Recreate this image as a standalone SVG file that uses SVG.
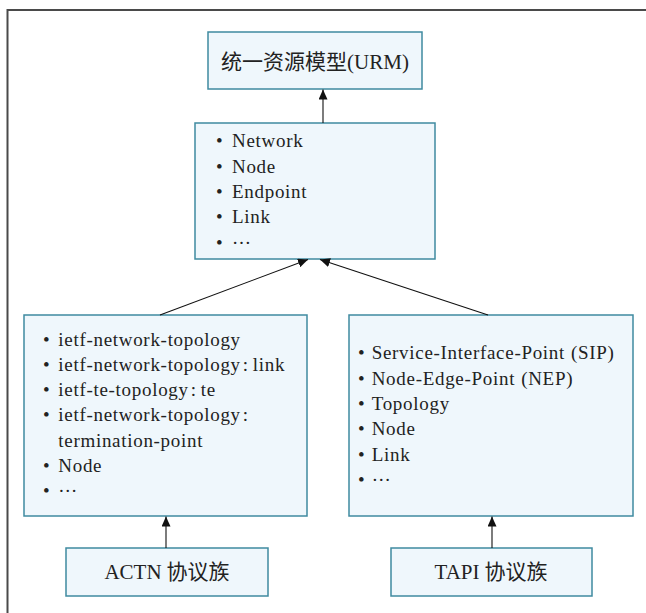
<svg xmlns="http://www.w3.org/2000/svg" width="646" height="613" viewBox="0 0 646 613">
<defs>
<style>
.box{fill:#EFF7FC;stroke:#3F8AA0;stroke-width:1.5}
.t{font-size:19px;fill:#222;letter-spacing:0.7px}
.c{font-size:21px;fill:#222;text-anchor:middle}
.conn{stroke:#111;stroke-width:1.1;fill:none;marker-end:url(#ah)}
.frame{stroke:#4a4a4a;stroke-width:2;fill:none}
</style>
<marker id="ah" markerUnits="userSpaceOnUse" markerWidth="10" markerHeight="9" viewBox="0 0 10 9" refX="10" refY="4.5" orient="auto">
<path d="M0,0 L10,4.5 L0,9 z" fill="#111"/>
</marker>
</defs>
<rect width="646" height="613" fill="#fff"/>
<path class="frame" d="M7.5,613 L7.5,10 L646,10"/>

<g id="urm" font-family="'Liberation Serif', serif">
<rect class="box" x="208" y="32" width="214" height="57"/>
<text class="c" x="315" y="69"><tspan font-family="'Noto Sans CJK SC', sans-serif">统一资源模型</tspan>(URM)</text>
</g>

<g id="common" font-family="'Liberation Serif', serif">
<rect class="box" x="195" y="123" width="240" height="136"/>
<text class="t" x="216" y="147.3" letter-spacing="0.3">•<tspan x="232">Network</tspan></text>
<text class="t" x="216" y="172.7" letter-spacing="0.3">•<tspan x="232">Node</tspan></text>
<text class="t" x="216" y="198" letter-spacing="0.6">•<tspan x="232">Endpoint</tspan></text>
<text class="t" x="216" y="223.3" letter-spacing="0.3">•<tspan x="232">Link</tspan></text>
<text class="t" x="216" y="248.6">•<tspan x="232" dy="-5" letter-spacing="1">…</tspan></text>
</g>

<g id="actn-model" font-family="'Liberation Serif', serif">
<rect class="box" x="24" y="315" width="283" height="201"/>
<text class="t" x="43" y="345.5">•<tspan x="58.3">ietf-network-topology</tspan></text>
<text class="t" x="43" y="370.8">•<tspan x="58.3">ietf-network-topology</tspan><tspan dx="2">:</tspan><tspan dx="4">link</tspan></text>
<text class="t" x="43" y="396">•<tspan x="58.3">ietf-te-topology</tspan><tspan dx="2">:</tspan><tspan dx="4">te</tspan></text>
<text class="t" x="43" y="421.3">•<tspan x="58.3">ietf-network-topology</tspan><tspan dx="2">:</tspan></text>
<text class="t" x="58.3" y="446.6">termination-point</text>
<text class="t" x="43" y="472">•<tspan x="58.3">Node</tspan></text>
<text class="t" x="43" y="497">•<tspan x="58.3" dy="-5" letter-spacing="1">…</tspan></text>
</g>

<g id="tapi-model" font-family="'Liberation Serif', serif">
<rect class="box" x="349" y="315" width="284" height="201"/>
<text class="t" x="358" y="359.3">•<tspan x="371.7">Service-Interface-Point</tspan><tspan dx="6">(SIP)</tspan></text>
<text class="t" x="358" y="384.6">•<tspan x="371.7">Node-Edge-Point</tspan><tspan dx="6">(NEP)</tspan></text>
<text class="t" x="358" y="409.9">•<tspan x="371.7">Topology</tspan></text>
<text class="t" x="358" y="435.2">•<tspan x="371.7">Node</tspan></text>
<text class="t" x="358" y="460.5">•<tspan x="371.7">Link</tspan></text>
<text class="t" x="358" y="485.8">•<tspan x="371.7" dy="-5" letter-spacing="1">…</tspan></text>
</g>

<g id="actn" font-family="'Liberation Serif', serif">
<rect class="box" x="66" y="548" width="202" height="48"/>
<text class="c" x="167" y="579" font-size="19.5">ACTN<tspan font-family="'Noto Sans CJK SC', sans-serif" dx="5">协议族</tspan></text>
</g>

<g id="tapi" font-family="'Liberation Serif', serif">
<rect class="box" x="391" y="548" width="201" height="48"/>
<text class="c" x="491" y="579" font-size="19.5">TAPI<tspan font-family="'Noto Sans CJK SC', sans-serif" dx="5">协议族</tspan></text>
</g>

<g id="connectors">
<line class="conn" x1="323" y1="123" x2="323" y2="89.5"/>
<line class="conn" x1="160" y1="315" x2="308" y2="259.5"/>
<line class="conn" x1="488" y1="315" x2="320" y2="259.5"/>
<line class="conn" x1="166" y1="548" x2="166" y2="516.5"/>
<line class="conn" x1="492" y1="548" x2="492" y2="516.5"/>
</g>
</svg>
